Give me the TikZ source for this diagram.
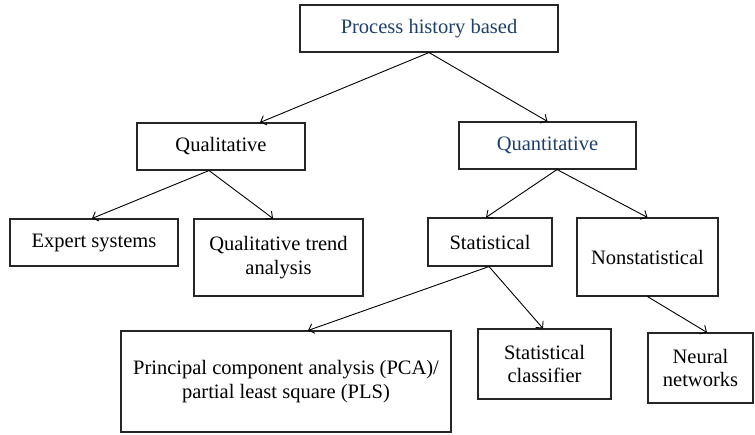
\documentclass[tikz,border=0pt]{standalone}
\usepackage{fontspec}
\setmainfont{Liberation Serif}
\usetikzlibrary{arrows.meta}
\definecolor{hblue}{HTML}{1F3F6B}
\begin{document}
\begin{tikzpicture}[x=1pt,y=-1pt,
  box/.style={draw=black!85, line width=1.1pt, rectangle, inner sep=0pt, align=center,
    font=\fontsize{20.5}{23.5}\selectfont},
  conn/.style={line width=0.9pt, -{Straight Barb[length=5pt,width=10pt]}}]
\useasboundingbox (0,0) rectangle (755,434);
\node[box, minimum width=258pt, minimum height=47pt, text=hblue] (top) at (429,28.5) {Process history based};
\node[box, minimum width=168pt, minimum height=47pt] (qual) at (221,146.5) {Qualitative};
\node[box, minimum width=177pt, minimum height=47pt, text=hblue] (quant) at (547.5,145.5) {Quantitative};
\node[box, minimum width=168pt, minimum height=47pt] (expert) at (94,242.5) {Expert systems};
\node[box, minimum width=169pt, minimum height=77pt] (qta) at (278.5,257.5) {Qualitative trend\\analysis};
\node[box, minimum width=124pt, minimum height=48pt] (stat) at (490,242) {Statistical};
\node[box, minimum width=141pt, minimum height=78pt] (nonstat) at (647.5,257) {Nonstatistical};
\node[box, minimum width=330pt, minimum height=101pt] (pca) at (286,381.5) {Principal component analysis (PCA)/\\partial least square (PLS)};
\node[box, minimum width=133pt, minimum height=70pt] (sc) at (544.5,364) {Statistical\\classifier};
\node[box, minimum width=105pt, minimum height=70pt] (nn) at (700.5,368) {Neural\\networks};
\draw[conn] (top.south) -- ([xshift=39pt]qual.north);
\draw[conn] (top.south) -- (quant.north);
\draw[conn] ([xshift=-12pt]qual.south) -- ([xshift=-2pt]expert.north);
\draw[conn] ([xshift=-12pt]qual.south) -- ([xshift=-5.5pt]qta.north);
\draw[conn] ([xshift=9.5pt]quant.south) -- ([xshift=-4pt]stat.north);
\draw[conn] ([xshift=9.5pt]quant.south) -- (nonstat.north);
\draw[conn] ([xshift=-1pt]stat.south) -- ([xshift=22pt]pca.north);
\draw[conn] ([xshift=-1pt]stat.south) -- ([xshift=-1.5pt]sc.north);
\draw[conn] (nonstat.south) -- ([xshift=6.5pt]nn.north);
\end{tikzpicture}
\end{document}
